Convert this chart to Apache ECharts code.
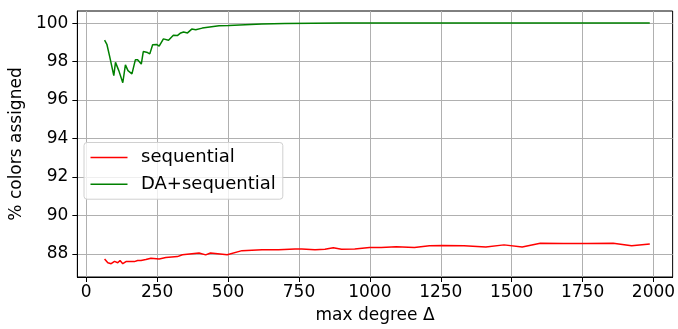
<!DOCTYPE html>
<html>
<head>
<meta charset="utf-8">
<script src="https://cdn.jsdelivr.net/npm/echarts@6/dist/echarts.min.js"></script>
<style>html,body{margin:0;padding:0;background:#fff}#c{width:678px;height:329px}</style>
</head>
<body>
<div id="c"></div>
<script>
var xTicks = [0, 250, 500, 750, 1000, 1250, 1500, 1750, 2000];
var yTicks = [88, 90, 92, 94, 96, 98, 100];
var seriesNames = ['sequential', 'DA+sequential'];

var xRed = [64.5, 76, 87.7, 99.6, 111, 119, 128.7, 140, 152, 169.7, 181, 193, 210, 228, 257, 280.5, 321.5, 339, 397.6, 421, 438, 497, 549, 619.6, 678, 736, 760, 806.5, 841.5, 871, 900, 946.7, 999, 1040, 1093, 1157, 1210, 1257, 1332, 1409, 1473, 1537, 1601, 1683, 1765, 1858, 1923, 1987];
var yRed = [87.74, 87.54, 87.49, 87.61, 87.54, 87.66, 87.49, 87.6, 87.6, 87.6, 87.66, 87.66, 87.71, 87.78, 87.74, 87.81, 87.86, 87.96, 88.05, 87.95, 88.05, 87.96, 88.17, 88.22, 88.22, 88.26, 88.26, 88.22, 88.24, 88.32, 88.24, 88.26, 88.34, 88.34, 88.37, 88.34, 88.42, 88.44, 88.42, 88.36, 88.47, 88.36, 88.56, 88.54, 88.54, 88.56, 88.42, 88.51];

var xGreen = [64.5, 72.6, 82, 97, 103, 114.7, 128.7, 138, 147, 161, 173, 181, 194, 201, 216, 224, 234, 248, 257, 272, 290, 307, 321, 333, 343, 357, 372, 386, 409, 468, 503, 560, 619, 700, 800, 900, 1000, 1250, 1500, 1750, 1987];
var yGreen = [99.11, 98.9, 98.3, 97.27, 97.96, 97.53, 96.9, 97.83, 97.53, 97.36, 98.09, 98.09, 97.87, 98.52, 98.47, 98.4, 98.88, 98.89, 98.8, 99.18, 99.11, 99.37, 99.35, 99.49, 99.54, 99.49, 99.69, 99.66, 99.74, 99.86, 99.88, 99.92, 99.96, 99.98, 99.99, 100, 100, 100, 100, 100, 100];

function pairs(xs, ys) { return xs.map(function (x, i) { return [x, ys[i]]; }); }

var font = 'DejaVu Sans';
var chart = echarts.init(document.getElementById('c'), null, { renderer: 'canvas' });
chart.setOption({
  animation: false,
  backgroundColor: '#ffffff',
  grid: { left: 74.3, right: 5, top: 11, bottom: 47.3, show: true, borderColor: '#000', borderWidth: 1, backgroundColor: 'transparent' },
  legend: {
    orient: 'vertical', left: 84, top: 142.5,
    data: seriesNames.map(function (n) { return { name: n, icon: 'rect' }; }),
    backgroundColor: 'rgba(255,255,255,0.8)',
    borderColor: '#d0d0d0', borderWidth: 1, borderRadius: 3,
    padding: [5, 7, 5, 6.5],
    itemWidth: 37, itemHeight: 1.6, itemGap: 6.7,
    textStyle: { fontFamily: font, fontSize: 18, color: '#000', padding: [0, 0, 0, 8.5], lineHeight: 20 }
  },
  xAxis: {
    type: 'value', min: -31.5, max: 2067.6,
    name: 'max degree Δ', nameLocation: 'middle', nameGap: 30,
    nameTextStyle: { fontFamily: font, fontSize: 17, color: '#000' },
    axisLine: { show: true, onZero: false, lineStyle: { color: '#000', width: 1 } },
    axisTick: { show: true, length: 5, inside: false, customValues: xTicks, lineStyle: { color: '#000' } },
    axisLabel: { fontFamily: font, fontSize: 17, color: '#000', margin: 7, customValues: xTicks, formatter: function (v) { return String(v); } },
    splitLine: { show: true, lineStyle: { color: '#b0b0b0', width: 1 } }
  },
  yAxis: {
    type: 'value', min: 86.8, max: 100.63,
    name: '% colors assigned', nameLocation: 'middle', nameGap: 49, nameRotate: 90,
    nameTextStyle: { fontFamily: font, fontSize: 17, color: '#000' },
    axisLine: { show: true, onZero: false, lineStyle: { color: '#000', width: 1 } },
    axisTick: { show: true, length: 5, inside: false, customValues: yTicks, lineStyle: { color: '#000' } },
    axisLabel: { fontFamily: font, fontSize: 17, color: '#000', margin: 9, customValues: yTicks, formatter: function (v) { return String(v); } },
    splitLine: { show: true, lineStyle: { color: '#b0b0b0', width: 1 } }
  },
  series: [
    { name: seriesNames[0], type: 'line', data: pairs(xRed, yRed), symbol: 'none', lineStyle: { color: '#ff0000', width: 1.5 }, itemStyle: { color: '#ff0000' } },
    { name: seriesNames[1], type: 'line', data: pairs(xGreen, yGreen), symbol: 'none', lineStyle: { color: '#008000', width: 1.5 }, itemStyle: { color: '#008000' } }
  ]
});
</script>
</body>
</html>
